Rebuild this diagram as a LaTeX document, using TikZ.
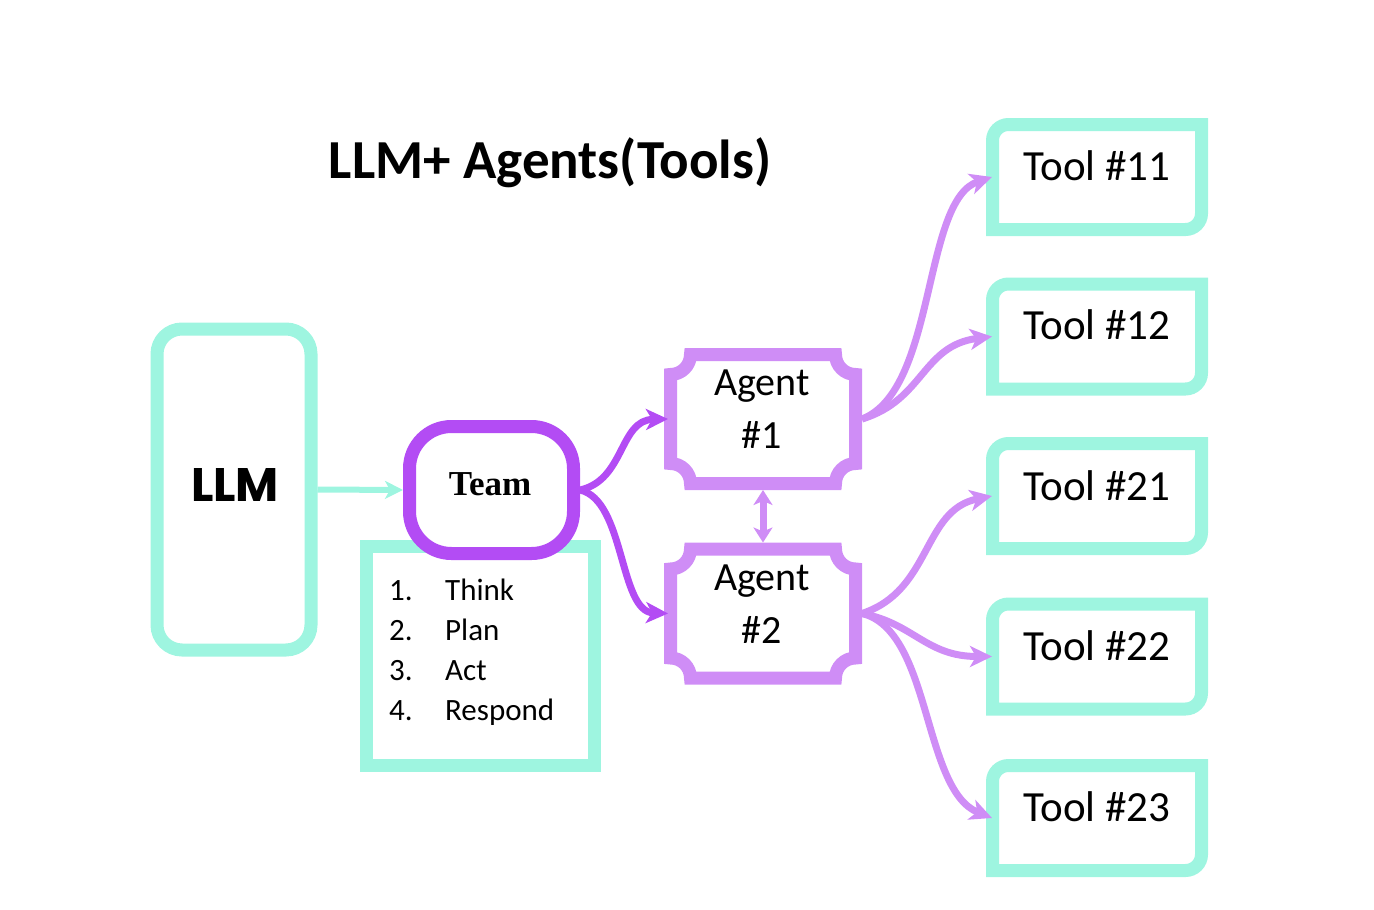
\documentclass[tikz,border=0pt]{standalone}
\usepackage{fontspec}
\setmainfont{Carlito}
\newfontfamily\teamfont{Liberation Serif}
\newfontfamily\llmfont{Poppins}
\usetikzlibrary{arrows.meta}
\definecolor{aqua}{HTML}{9EF5E0}
\definecolor{agentpurple}{HTML}{CF8DF6}
\definecolor{teampurple}{HTML}{B34CF4}
\newcommand\agentborderpath[1]{%
  \draw[agentborder]
    ([xshift=26.5pt,yshift=-6.5pt]#1.north west) --
    ([xshift=-26.5pt,yshift=-6.5pt]#1.north east)
    arc[start angle=180,end angle=270,radius=20pt] --
    ([xshift=-6.5pt,yshift=26.5pt]#1.south east)
    arc[start angle=90,end angle=180,radius=20pt] --
    ([xshift=26.5pt,yshift=6.5pt]#1.south west)
    arc[start angle=0,end angle=90,radius=20pt] --
    ([xshift=6.5pt,yshift=-26.5pt]#1.north west)
    arc[start angle=270,end angle=360,radius=20pt] -- cycle;}
\newcommand\toolborderpath[1]{%
  \draw[toolborder]
    ([xshift=6.5pt,yshift=-22.5pt]#1.north west) --
    ([xshift=6.5pt,yshift=6.5pt]#1.south west) --
    ([xshift=-22.5pt,yshift=6.5pt]#1.south east)
    arc[start angle=270,end angle=360,radius=16pt] --
    ([xshift=-6.5pt,yshift=-6.5pt]#1.north east) --
    ([xshift=22.5pt,yshift=-6.5pt]#1.north west)
    arc[start angle=90,end angle=180,radius=16pt] -- cycle;}
\begin{document}
\begin{tikzpicture}[x=1pt,y=-1pt,
  hiddenbox/.style={draw=none,inner sep=0pt,outer sep=0pt},
  agentbox/.style={hiddenbox,minimum width=198pt,minimum height=142pt},
  toolbox/.style={hiddenbox,minimum width=222pt,minimum height=118pt},
  agentborder/.style={draw=agentpurple,line width=13pt,fill=white},
  toolborder/.style={draw=aqua,line width=13pt,fill=white},
  aquabox/.style={draw=aqua,line width=13pt,fill=white,inner sep=0pt},
  txt/.style={inner sep=0pt,anchor=base},
  agenttxt/.style={txt,font=\fontsize{40}{53}\selectfont},
  tooltxt/.style={txt,font=\fontsize{43}{50}\selectfont},
  agentarrow/.style={draw=agentpurple,line width=7pt,-{Stealth[length=22pt,width=21pt,inset=6pt]}},
  teamarrow/.style={draw=teampurple,line width=7pt,-{Stealth[length=22pt,width=21pt,inset=6pt]}},
  aquaarrow/.style={draw=aqua,line width=6pt,-{Stealth[length=18pt,width=18pt,inset=5pt]}},
  dblarrow/.style={draw=agentpurple,line width=7pt,{Stealth[length=15pt,width=19pt,inset=4pt]}-{Stealth[length=15pt,width=19pt,inset=4pt]}}
]
\useasboundingbox (0,0) rectangle (1374,910);

% title
\node[txt,font=\fontsize{55}{60}\selectfont\bfseries] (title) at (550,178) {LLM+ Agents(Tools)};

% list box and team
\node[aquabox,minimum width=228pt,minimum height=219pt] (list) at (480.5,656) {};
\node[inner sep=0pt,anchor=north west,font=\fontsize{31}{40}\selectfont] (listtxt) at (389,572)
  {\begin{tabular}[t]{@{}p{56pt}@{}l@{}}1. & Think\\2. & Plan\\3. & Act\\4. & Respond\end{tabular}};
\node[draw=teampurple,line width=13pt,fill=white,rounded corners=42pt,inner sep=0pt,
      minimum width=164pt,minimum height=127pt] (team) at (491.5,490) {};
\node[txt,font=\teamfont\fontsize{35}{40}\selectfont\bfseries] (teamtxt) at (490,495) {Team};

% LLM
\node[aquabox,rounded corners=25pt,minimum width=154pt,minimum height=321pt] (llm) at (234,489.5) {};
\node[txt,font=\llmfont\fontsize{47}{50}\selectfont\bfseries] (llmtxt) at (235,501) {LLM};

% agents
\node[agentbox] (a1) at (763,419) {};
\node[agentbox] (a2) at (763,613.5) {};
\agentborderpath{a1}
\agentborderpath{a2}
\node[agenttxt] (a1txt) at (762,395) {\begin{tabular}[t]{@{}c@{}}Agent\\\#1\end{tabular}};
\node[agenttxt] (a2txt) at (762,590) {\begin{tabular}[t]{@{}c@{}}Agent\\\#2\end{tabular}};

% tools
\node[toolbox] (t11) at (1097,177) {};
\node[toolbox] (t12) at (1097,336.5) {};
\node[toolbox] (t21) at (1097,496) {};
\node[toolbox] (t22) at (1097,656.5) {};
\node[toolbox] (t23) at (1097,818) {};
\toolborderpath{t11}
\toolborderpath{t12}
\toolborderpath{t21}
\toolborderpath{t22}
\toolborderpath{t23}
\node[tooltxt] (t11txt) at (1097,180) {Tool \#11};
\node[tooltxt] (t12txt) at (1097,339) {Tool \#12};
\node[tooltxt] (t21txt) at (1097,500) {Tool \#21};
\node[tooltxt] (t22txt) at (1097,660) {Tool \#22};
\node[tooltxt] (t23txt) at (1097,821) {Tool \#23};

% connectors
\draw[aquaarrow] (llm.east) -- (team.west);
\draw[teamarrow] (team.east) .. controls +(45,-10) and +(-49,1) .. ([xshift=4pt]a1.west);
\draw[teamarrow] (team.east) .. controls +(45,10) and +(-49,-2) .. ([xshift=4pt]a2.west);
\draw[dblarrow] (a1.south) -- (a2.north);
\draw[agentarrow] (a1.east) .. controls +(75,-29) and +(-70,23) .. ([xshift=6pt]t11.west);
\draw[agentarrow] (a1.east) .. controls +(62,-19) and +(-70,9) .. ([xshift=6pt]t12.west);
\draw[agentarrow] (a2.east) .. controls +(70,-23) and +(-70,14) .. ([xshift=6pt]t21.west);
\draw[agentarrow] (a2.east) .. controls +(52,10) and +(-66,0) .. ([xshift=6pt]t22.west);
\draw[agentarrow] (a2.east) .. controls +(70,17) and +(-70,-28) .. ([xshift=6pt]t23.west);
\end{tikzpicture}
\end{document}
